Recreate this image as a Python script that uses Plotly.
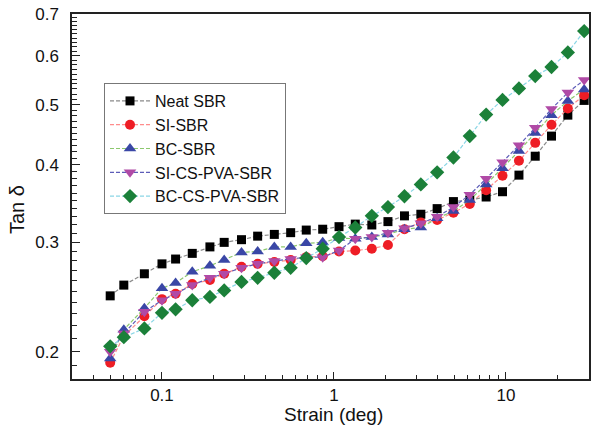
import numpy as np
import plotly.graph_objects as go

# ---- data ----
strain = [0.05, 0.06, 0.079, 0.1, 0.12, 0.15, 0.19, 0.23, 0.29, 0.36, 0.45, 0.56,
          0.69, 0.86, 1.07, 1.33, 1.66, 2.06, 2.57, 3.2, 3.98, 4.95, 6.16, 7.67,
          9.55, 11.9, 14.8, 18.4, 22.9, 28.5]

neat_sbr = [0.246, 0.256, 0.267, 0.277, 0.282, 0.288, 0.295, 0.300, 0.303, 0.307,
            0.309, 0.311, 0.314, 0.315, 0.318, 0.321, 0.320, 0.324, 0.331, 0.333,
            0.340, 0.349, 0.351, 0.355, 0.362, 0.385, 0.413, 0.445, 0.481, 0.508]

si_sbr = [0.192, 0.212, 0.228, 0.243, 0.248, 0.257, 0.261, 0.267, 0.274, 0.277,
          0.279, 0.281, 0.284, 0.285, 0.290, 0.291, 0.293, 0.297, 0.315, 0.323,
          0.326, 0.335, 0.346, 0.364, 0.384, 0.406, 0.434, 0.464, 0.493, 0.518]

bc_sbr = [0.195, 0.217, 0.235, 0.253, 0.258, 0.269, 0.275, 0.281, 0.289, 0.290,
          0.295, 0.295, 0.299, 0.300, 0.305, 0.304, 0.306, 0.309, 0.315, 0.317,
          0.328, 0.337, 0.351, 0.372, 0.395, 0.421, 0.450, 0.481, 0.507, 0.529]

si_cs_pva_sbr = [0.200, 0.214, 0.232, 0.242, 0.248, 0.256, 0.263, 0.267, 0.273, 0.277,
                 0.280, 0.282, 0.284, 0.284, 0.291, 0.304, 0.306, 0.311, 0.316, 0.322,
                 0.330, 0.342, 0.358, 0.380, 0.404, 0.430, 0.459, 0.492, 0.523, 0.548]

bc_cs_pva_sbr = [0.204, 0.211, 0.218, 0.231, 0.234, 0.242, 0.245, 0.251, 0.259, 0.263,
                 0.268, 0.273, 0.283, 0.293, 0.306, 0.317, 0.331, 0.342, 0.356, 0.372,
                 0.389, 0.411, 0.445, 0.482, 0.509, 0.531, 0.556, 0.575, 0.607, 0.657]

series_names = ["Neat SBR", "SI-SBR", "BC-SBR", "SI-CS-PVA-SBR", "BC-CS-PVA-SBR"]
series_values = [neat_sbr, si_sbr, bc_sbr, si_cs_pva_sbr, bc_cs_pva_sbr]

x_tick_vals = [0.1, 1, 10]
x_tick_text = ["0.1", "1", "10"]
y_tick_vals = [0.2, 0.3, 0.4, 0.5, 0.6, 0.7]
y_tick_text = ["0.2", "0.3", "0.4", "0.5", "0.6", "0.7"]

# ---- styles ----
marker_symbols = ["square", "circle", "triangle-up", "triangle-down", "diamond"]
marker_colors = ["#000000", "#ee1d25", "#3a47a6", "#b04aa6", "#1b8039"]
line_colors = ["#8a8a8a", "#ff8c8c", "#8cc86e", "#5c5cb8", "#8ad6e6"]
marker_sizes = [9, 10, 11, 11, 11]

FONT = "Liberation Sans, Arial, sans-serif"
TXT = "#111111"

x_minor = [m * 10.0 ** e for e in (-2, -1, 0, 1) for m in range(2, 10)
           if 0.03 <= m * 10.0 ** e <= 30 and m * 10.0 ** e not in x_tick_vals]
y_minor = [round(v, 2) for v in np.arange(0.18, 0.705, 0.01)
           if round(v, 2) not in y_tick_vals]

fig = go.Figure()
for name, vals, sym, mc, lc, ms in zip(series_names, series_values, marker_symbols,
                                       marker_colors, line_colors, marker_sizes):
    fig.add_trace(go.Scatter(
        x=strain, y=vals, name=name, mode="lines+markers",
        line=dict(color=lc, width=1.2, dash="4px,2px"),
        marker=dict(symbol=sym, color=mc, size=ms, line=dict(width=0)),
    ))

ML, MR, MT, MB = 72, 3, 14, 49
W, H = 592, 428
plot_w = W - ML - MR
plot_h = H - MT - MB

fig.update_layout(
    width=W, height=H,
    margin=dict(l=ML, r=MR, t=MT, b=MB),
    paper_bgcolor="white", plot_bgcolor="white",
    font=dict(family=FONT, size=17, color=TXT),
    showlegend=True,
    legend=dict(
        x=(104 - ML) / plot_w, y=(H - MB - 83) / plot_h, xanchor="left", yanchor="top",
        bordercolor="#777777", borderwidth=1, bgcolor="white",
        font=dict(family=FONT, size=16, color=TXT),
        itemwidth=40, tracegroupgap=0,
    ),
    annotations=[
        dict(text="Tan δ", x=(17 - ML) / plot_w, y=(H - MB - 210) / plot_h,
             xref="paper", yref="paper", xanchor="center", yanchor="middle",
             showarrow=False, textangle=-90,
             font=dict(family=FONT, size=20, color=TXT)),
        dict(text="Strain (deg)", x=(333 - ML) / plot_w, y=(H - MB - 414) / plot_h,
             xref="paper", yref="paper", xanchor="center", yanchor="middle",
             showarrow=False, font=dict(family=FONT, size=19, color=TXT)),
    ],
)

fig.update_xaxes(
    type="log", range=[np.log10(0.02998), np.log10(30.4)],
    tickmode="array", tickvals=x_tick_vals, ticktext=x_tick_text,
    ticks="inside", ticklen=7, tickwidth=1, tickcolor="#222222",
    showline=True, linecolor="#222222", linewidth=1.5, mirror=True,
    showgrid=False, zeroline=False, ticklabelstandoff=0,
    tickfont=dict(family=FONT, size=17, color=TXT),
    minor=dict(tickmode="array", tickvals=x_minor, ticks="inside", ticklen=4,
               tickwidth=1, tickcolor="#222222", showgrid=False),
    automargin=False,
)
fig.update_yaxes(
    type="log", range=[np.log10(0.1807), np.log10(0.7)],
    tickmode="array", tickvals=y_tick_vals, ticktext=y_tick_text,
    ticks="inside", ticklen=8, tickwidth=1, tickcolor="#222222",
    showline=True, linecolor="#222222", linewidth=1.5, mirror=True,
    showgrid=False, zeroline=False, ticklabelstandoff=8,
    tickfont=dict(family=FONT, size=17, color=TXT),
    minor=dict(tickmode="array", tickvals=y_minor, ticks="inside", ticklen=5,
               tickwidth=1, tickcolor="#222222", showgrid=False),
    automargin=False,
)

fig.write_html("out.html", config={"displayModeBar": False},
               post_script="document.body.style.margin='0';")
